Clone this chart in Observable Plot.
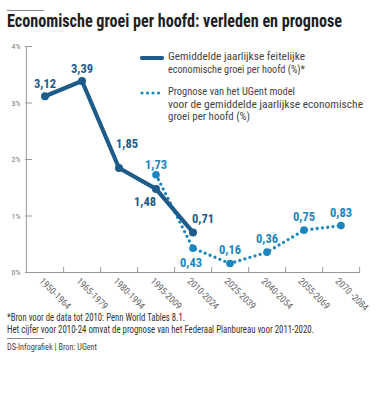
<!DOCTYPE html>
<html><head><meta charset="utf-8">
<script src="https://cdn.jsdelivr.net/npm/d3@7"></script>
<script src="https://cdn.jsdelivr.net/npm/@observablehq/plot@0.6"></script>
<style>
body{margin:0;background:#fff;}
#wrap{position:relative;width:390px;height:416px;overflow:hidden;font-family:"Liberation Sans Narrow","Roboto Condensed","DejaVu Sans Condensed",Roboto,sans-serif;color:#333;}
.rule{position:absolute;left:7px;width:37px;height:0;border-top:1px solid #888;}
.fit{position:absolute;left:7px;white-space:nowrap;transform-origin:0 50%;}
#title{top:11px;font-weight:bold;font-size:18px;color:#1e1e1e;line-height:20px;}
#chart{position:absolute;left:0;top:34px;}
#legend{position:absolute;left:140px;top:51px;font-size:11px;line-height:12.5px;color:#444;}
.li{position:relative;padding-left:28px;margin-bottom:10px;white-space:nowrap;}
.li svg{position:absolute;left:0;top:3px;}
.lt{display:inline-block;transform-origin:0 50%;}
.foot{font-size:10px;line-height:11px;color:#333;}
.src{font-size:8.5px;line-height:10px;color:#444;}
</style></head>
<body><div id="wrap">
<div class="rule" style="top:10px"></div>
<div id="title" class="fit" data-w="335">Economische groei per hoofd: verleden en prognose</div>
<div id="chart"></div>
<div id="legend">
  <div class="li"><svg width="24" height="8"><line x1="2" x2="22" y1="4" y2="4" stroke="#1d5b8b" stroke-width="4.2" stroke-linecap="round"/></svg><span class="lt" data-w="137">Gemiddelde jaarlijkse feitelijke</span><br><span class="lt" data-w="137">economische groei per hoofd (%)*</span></div>
  <div class="li"><svg width="24" height="8"><line x1="2" x2="22" y1="4" y2="4" stroke="#1a86bd" stroke-width="3.2" stroke-linecap="round" stroke-dasharray="0 5.5"/></svg><span class="lt" data-w="127">Prognose van het UGent model</span><br><span class="lt" data-w="195">voor de gemiddelde jaarlijkse economische</span><br><span class="lt" data-w="82">groei per hoofd (%)</span></div>
</div>
<div class="fit foot" style="top:312px" data-w="178">*Bron voor de data tot 2010: Penn World Tables 8.1.</div>
<div class="fit foot" style="top:323.5px" data-w="307">Het cijfer voor 2010-24 omvat de prognose van het Federaal Planbureau voor 2011-2020.</div>
<div class="rule" style="top:338px"></div>
<div class="fit src" style="top:342px" data-w="90">DS-Infografiek | Bron: UGent</div>
</div>
<script>
const categories = ["1950-1964","1965-1979","1980-1994","1995-2009","2010-2024","2025-2039","2040-2054","2055-2069","2070 -2084"];
const actualValues = [3.12, 3.39, 1.85, 1.48, 0.71, null, null, null, null];
const forecastValues = [null, null, null, 1.73, 0.43, 0.16, 0.36, 0.75, 0.83];
const yTicks = [0, 1, 2, 3, 4];

const dark = "#1d5b8b", light = "#1a86bd";
const fmt = v => v.toFixed(2).replace(".", ",");
const actual = categories.map((c, i) => ({cat: c, v: actualValues[i]})).filter(d => d.v != null);
const forecast = categories.map((c, i) => ({cat: c, v: forecastValues[i]})).filter(d => d.v != null);

// label placement offsets (styling, by category)
const actualOff = {"1980-1994": [8, -24], "1995-2009": [-11, 13], "2010-2024": [10, -13]};
const forecastOff = {"1995-2009": [0, -10], "2010-2024": [-2, 15]};

const W = 390, H = 282, ML = 25, MR = 30, MT = 12, MB = 44;
const step = (W - ML - MR) / categories.length;
const plotH = H - MT - MB, plotW = W - ML - MR;
const font = '"Liberation Sans Narrow","Roboto Condensed","DejaVu Sans Condensed",Roboto,sans-serif';

function labels(data, m, def, color) {
  return data.map(d => {
    const o = m[d.cat] || def;
    return Plot.text([d], {x: "cat", y: "v", text: e => fmt(e.v), dx: o[0], dy: o[1], fill: color, fontWeight: "bold", fontSize: 12.5, fontFamily: font});
  });
}

const chart = Plot.plot({
  width: W, height: H, marginLeft: ML, marginRight: MR, marginTop: MT, marginBottom: MB,
  style: {fontFamily: font, background: "transparent", overflow: "visible"},
  x: {type: "band", domain: categories, padding: 0, label: null, axis: null},
  y: {domain: [0, 4], label: null},
  marks: [
    Plot.ruleX([categories[0]], {dx: -step / 2, stroke: "#999", strokeWidth: 1}),
    Plot.ruleY(yTicks.slice(1), {insetRight: plotW - 7, stroke: "#999"}),
    Plot.ruleY([0], {stroke: "#999"}),
    Plot.ruleX(categories, {dx: step / 2, insetTop: plotH - 5, stroke: "#999"}),
    Plot.axisY({ticks: yTicks, tickFormat: d => d + "%", tickSize: 0, tickPadding: 5, fontSize: 8, fill: "#777"}),
    Plot.text(categories, {x: d => d, frameAnchor: "bottom", rotate: 45, textAnchor: "start", lineAnchor: "middle", dx: -4, dy: 7, fontSize: 9.5, fill: "#666"}),
    Plot.line(forecast, {x: "cat", y: "v", stroke: light, strokeWidth: 3.3, strokeDasharray: "0 5.3", strokeLinecap: "round"}),
    Plot.dot(forecast, {x: "cat", y: "v", r: 3.8, fill: light}),
    Plot.line(actual, {x: "cat", y: "v", stroke: dark, strokeWidth: 4.2, strokeLinejoin: "round"}),
    Plot.dot(actual, {x: "cat", y: "v", r: 4, fill: dark}),
    ...labels(actual, actualOff, [0, -12], dark),
    ...labels(forecast, forecastOff, [0, -13], light)
  ]
});
document.getElementById("chart").appendChild(chart);

// fit text blocks to the reference widths
document.querySelectorAll("[data-w]").forEach(el => {
  const target = +el.dataset.w;
  const w = el.getBoundingClientRect().width;
  if (w > 0) el.style.transform = `scaleX(${target / w})`;
});
</script>
</body></html>
